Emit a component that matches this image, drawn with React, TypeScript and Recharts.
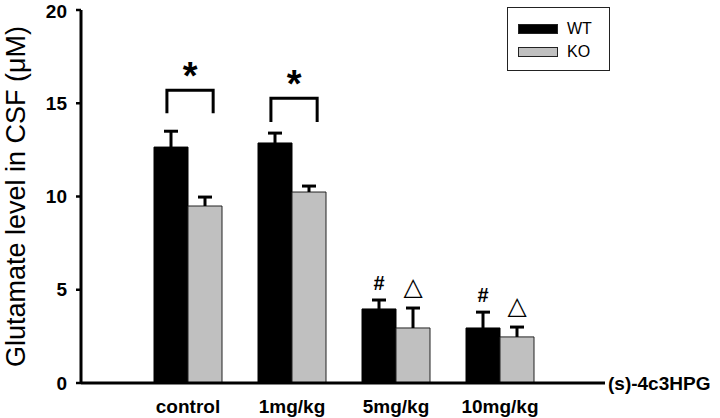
import React from 'react';
import { BarChart, Bar, XAxis, YAxis, Legend, LabelList } from 'recharts';

// values
const categories = ['control', '1mg/kg', '5mg/kg', '10mg/kg'];
const wt = [12.65, 12.87, 3.97, 2.95];
const ko = [9.49, 10.24, 2.95, 2.47];
const wtErr = [0.85, 0.53, 0.48, 0.85];
const koErr = [0.48, 0.32, 1.07, 0.53];
const wtMarks = ['*', '*', '#', '#'];
const koMarks = ['', '', '△', '△'];
const bracketTop = [15.7, 15.27, null, null];
const bracketBottom = [14.47, 14.0, null, null];
const yTicks = [0, 5, 10, 15, 20];
const seriesOrder = ['WT', 'KO'];

const data = categories.map((c, i) => ({ name: c, WT: wt[i], KO: ko[i] }));

const FONT = '"Liberation Sans", Arial, sans-serif';
const KO_FILL = '#c0c0c0';

function makeDecor(values: number[], errs: number[], marks: string[], isWT: boolean) {
  return (props: any) => {
    const vb = props.viewBox || {};
    const x = props.x ?? vb.x;
    const y = props.y ?? vb.y;
    const width = props.width ?? vb.width;
    const height = props.height ?? vb.height;
    const i = props.index;
    const v = values[i];
    if (x == null || !v) return null;
    const ppu = height / v;
    const base = y + height;
    const toPix = (val: number) => base - val * ppu;
    const cx = x + width / 2;
    const errTop = toPix(v + errs[i]);
    const mark = marks[i];
    const out: any[] = [
      <line key="ev" x1={cx} x2={cx} y1={y} y2={errTop} stroke="#000" strokeWidth={3} />,
      <line key="ec" x1={cx - 7} x2={cx + 7} y1={errTop} y2={errTop} stroke="#000" strokeWidth={3} />,
    ];
    if (isWT && mark === '*' && bracketTop[i] != null) {
      const top = toPix(bracketTop[i] as number);
      const bot = toPix(bracketBottom[i] as number);
      const l = x + width * 0.38;
      const r = x + width * 1.74;
      out.push(
        <path key="br" d={`M${l},${bot} L${l},${top} L${r},${top} L${r},${bot}`} fill="none" stroke="#000" strokeWidth={3} strokeLinejoin="miter" />,
        <text key="st" x={(l + r) / 2} y={top - 1} textAnchor="middle" fontFamily={FONT} fontWeight="bold" fontSize={38} fill="#000">*</text>
      );
    } else if (mark === '#') {
      out.push(
        <text key="h" x={cx} y={errTop - 10} textAnchor="middle" fontFamily={FONT} fontWeight="bold" fontSize={20} fill="#000">#</text>
      );
    } else if (mark === '△') {
      out.push(
        <text key="t" x={cx} y={errTop - 13} textAnchor="middle" fontFamily='"DejaVu Sans", sans-serif' fontSize={25} fill="#000">△</text>
      );
    }
    return <g>{out}</g>;
  };
}

function YLabel() {
  const cy = 196.5;
  return (
    <text x={25} y={cy} transform={`rotate(-90, 25, ${cy})`} textAnchor="middle" fontFamily={FONT} fontSize={27} fill="#000">
      Glutamate level in CSF (μM)
    </text>
  );
}

function XLabel(props: any) {
  const vb = props.viewBox || {};
  return (
    <text x={vb.x + vb.width + 3} y={vb.y} dominantBaseline="central" fontFamily={FONT} fontWeight="bold" fontSize={19} fill="#000">
      (s)-4c3HPG
    </text>
  );
}

function LegendBox(props: any) {
  const payload = [...(props.payload || [])].sort(
    (a: any, b: any) => seriesOrder.indexOf(a.value) - seriesOrder.indexOf(b.value)
  );
  return (
    <div style={{ width: 103, height: 64, boxSizing: 'border-box', border: '1.5px solid #222', paddingTop: 9, fontFamily: FONT }}>
      {payload.map((p: any) => (
        <div key={p.value} style={{ display: 'flex', alignItems: 'center', height: 23, paddingLeft: 10 }}>
          <div style={{ width: 40, height: 10, background: p.value === 'WT' ? '#000' : KO_FILL, border: '1px solid #222', boxSizing: 'border-box' }} />
          <span style={{ marginLeft: 9, fontSize: 16, color: '#000' }}>{p.value}</span>
        </div>
      ))}
    </div>
  );
}

export default function App() {
  return (
    <div style={{ position: 'absolute', left: 0, top: 0, width: 720, height: 418, background: '#fff' }}>
      <BarChart width={720} height={418} data={data} margin={{ top: 10, right: 115, bottom: 0, left: 0 }} barGap={0} barSize={34}>
        <XAxis
          dataKey="name"
          height={35}
          padding={{ left: 55, right: 53 }}
          axisLine={{ stroke: '#000', strokeWidth: 3 }}
          tickLine={false}
          tickSize={0}
          tickMargin={17}
          tick={{ fill: '#000', fontSize: 19, fontWeight: 'bold', fontFamily: FONT }}
          label={<XLabel />}
        />
        <YAxis
          width={81}
          domain={[0, 20]}
          ticks={yTicks}
          axisLine={{ stroke: '#000', strokeWidth: 3 }}
          tickLine={{ stroke: '#000', strokeWidth: 2.5 }}
          tickSize={5}
          tickMargin={9}
          tick={{ fill: '#000', fontSize: 19, fontWeight: 'bold', fontFamily: FONT }}
          label={<YLabel />}
        />
        <Legend
          verticalAlign="middle"
          align="center"
          layout="vertical"
          content={<LegendBox />}
          wrapperStyle={{ position: 'absolute', left: 507, top: 7, width: 103, height: 64 }}
        />
        <Bar dataKey="WT" fill="#000" stroke="#000" strokeWidth={1} isAnimationActive={false}>
          <LabelList content={makeDecor(wt, wtErr, wtMarks, true)} />
        </Bar>
        <Bar dataKey="KO" fill={KO_FILL} stroke="#222" strokeWidth={1} isAnimationActive={false}>
          <LabelList content={makeDecor(ko, koErr, koMarks, false)} />
        </Bar>
      </BarChart>
    </div>
  );
}
